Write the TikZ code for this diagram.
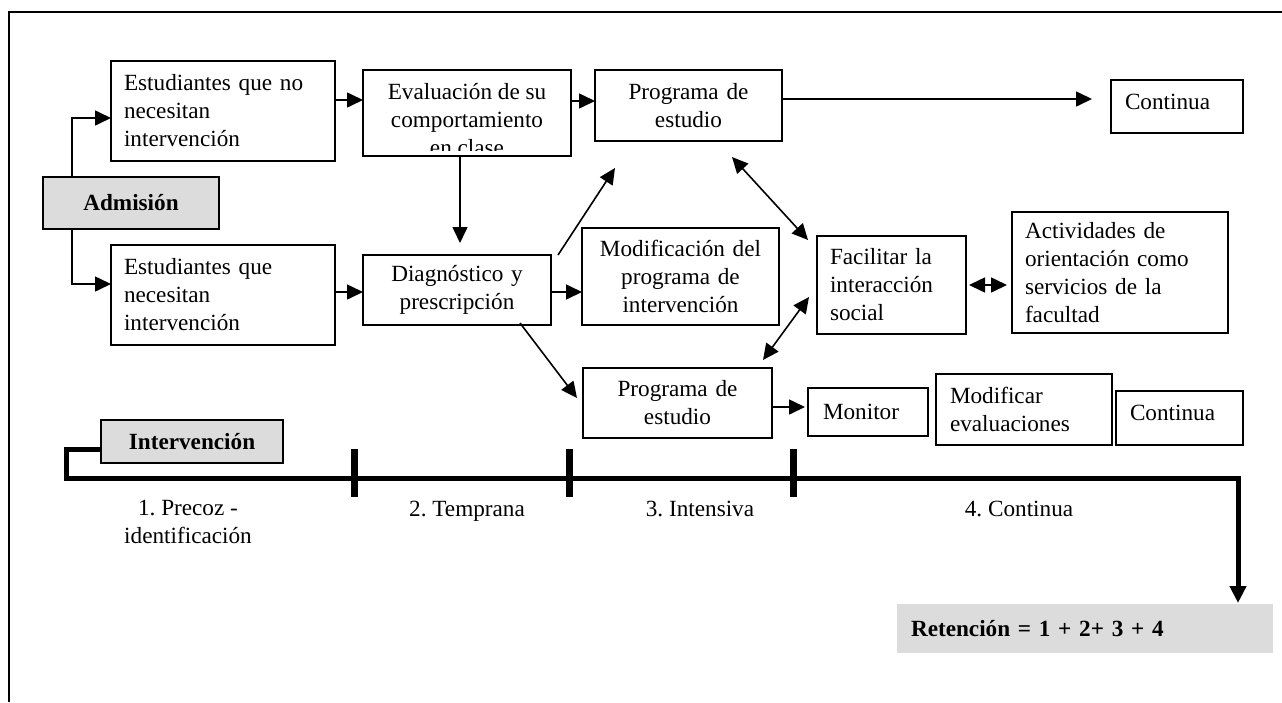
\documentclass[tikz,border=0pt]{standalone}
\usepackage{fontspec}
\setmainfont{Liberation Serif}
\usetikzlibrary{arrows.meta}

\definecolor{boxgray}{RGB}{220,220,220}
\frenchspacing

\begin{document}
\begin{tikzpicture}[x=1pt,y=-1pt,
  font=\fontsize{23.2}{28}\selectfont,
  >={Triangle[length=16pt,width=15pt]},
  box/.style={draw, line width=1.7pt, anchor=north west, inner xsep=13pt, inner ysep=0pt, outer sep=0pt},
  arr/.style={line width=1.6pt}]
\useasboundingbox (0,0) rectangle (1282,702);
\draw[line width=1.5pt] (9,702) -- (9,12) -- (1282,12);

% cajas de arriba
\node[box, text width=198pt, minimum height=100pt, align=left] (estno) at (111,61) {Estudiantes que no\\necesitan\\intervención};
\node[box, minimum width=208pt, minimum height=86pt] (eval) at (363,70) {};
\begin{scope}
\clip (eval.north west) rectangle ([shift={(0,-6)}]eval.south east);
\node[anchor=north, align=center, inner sep=0pt] (evaltxt) at ([shift={(0,13)}]eval.north) {Evaluación de su\\comportamiento\\en clase};
\end{scope}
\node[box, text width=161pt, minimum height=71pt, align=center] (prog1) at (595,70) {Programa de\\estudio};
\node[box, inner xsep=14pt, text width=104pt, minimum height=53pt, text depth=10pt, align=left] (cont1) at (1111,80) {Continua};
\node[box, fill=boxgray, text width=150pt, minimum height=52pt, align=center] (adm) at (43,177) {\textbf{Admisión}};

% cajas del medio
\node[box, text width=198pt, minimum height=100pt, align=left] (estsi) at (111,245) {Estudiantes que\\necesitan\\intervención};
\node[box, text width=162pt, minimum height=70pt, align=center] (diag) at (363,255) {Diagnóstico y\\prescripción};
\node[box, text width=171pt, minimum height=97pt, align=center] (modif) at (582,228) {Modificación del\\programa de\\intervención};
\node[box, text width=123pt, minimum height=98pt, align=left] (facil) at (817,236) {Facilitar la\\interacción\\social};
\node[box, text width=190pt, minimum height=121pt, align=left] (activ) at (1012,212) {Actividades de\\orientación como\\servicios de la\\facultad};

% cajas de abajo
\node[box, text width=163pt, minimum height=70pt, align=center] (prog2) at (583,368) {Programa de\\estudio};
\node[box, inner xsep=15pt, text width=90pt, minimum height=48pt, align=left] (monitor) at (808,388) {Monitor};
\node[box, inner xsep=14pt, text width=148pt, minimum height=71pt, align=left] (modev) at (936,374) {Modificar\\evaluaciones};
\node[box, inner xsep=14pt, text width=99pt, minimum height=54pt, text depth=10pt, align=left] (cont2) at (1116,391) {Continua};
\node[box, fill=boxgray, text width=156pt, minimum height=43pt, align=center] (interv) at (101,420) {\textbf{Intervención}};
\node[box, draw=none, fill=boxgray, inner xsep=14pt, text width=348pt, minimum height=49pt, align=left] (ret) at (897,604) {\textbf{Retención = 1 + 2+ 3 + 4}};

% flechas
\draw[arr,->] ([shift={(29,0)}]adm.north west) |- ([shift={(0,7)}]estno.west);
\draw[arr,->] ([shift={(29,0)}]adm.south west) |- ([shift={(0,-11)}]estsi.west);
\draw[arr,->] ([shift={(0,-11)}]estno.east) -- ([shift={(0,-13)}]eval.west);
\draw[arr,->] ([shift={(0,-12)}]eval.east) -- ([shift={(0,-4.5)}]prog1.west);
\draw[arr,->] ([shift={(0,-6.5)}]prog1.east) -- ([shift={(-19,-7.5)}]cont1.west);
\draw[arr,->] ([shift={(-7,0)}]eval.south) -- ([shift={(3,-12)}]diag.north);
\draw[arr,->] ([shift={(0,-3)}]estsi.east) -- ([shift={(0,2)}]diag.west);
\draw[arr,->] ([shift={(0,2)}]diag.east) -- ([shift={(0,15.5)}]modif.west);
\draw[arr,->] ([shift={(7,0)}]diag.north east) -- ([shift={(20,27)}]prog1.south west);
\draw[arr,->] ([shift={(-31,-2)}]diag.south east) -- ([shift={(-6,-5)}]prog2.west);
\draw[arr,<->] ([shift={(-50,16)}]prog1.south east) -- ([shift={(-9,4)}]facil.north west);
\draw[arr,<->] ([shift={(-8,12)}]facil.west) -- ([shift={(-9,-8)}]prog2.north east);
\draw[arr,<->] ([shift={(3,0)}]facil.east) -- ([shift={(-5,12.5)}]activ.west);
\draw[arr,->] ([shift={(0,4)}]prog2.east) -- ([shift={(-3,-5)}]monitor.west);

% linea de tiempo
\draw[line width=5pt, -{Triangle[length=17pt,width=16pt]}] ([shift={(0,7.5)}]interv.west) -| (66,478) -| ([shift={(-35,-1)}]ret.north east);
\foreach \x in {354,569,793} {
 \draw[line width=7pt] (\x,449) -- (\x,497);
}
\node[anchor=north, align=center, inner sep=0pt] (etapa1) at (188,500) {1. Precoz -\\identificación};
\foreach \x/\t [count=\i from 2] in {467/2. Temprana, 700/3. Intensiva, 1019/4. Continua} {
 \node[anchor=base, inner sep=0pt] (etapa\i) at (\x,516) {\t};
}
\end{tikzpicture}
\end{document}
